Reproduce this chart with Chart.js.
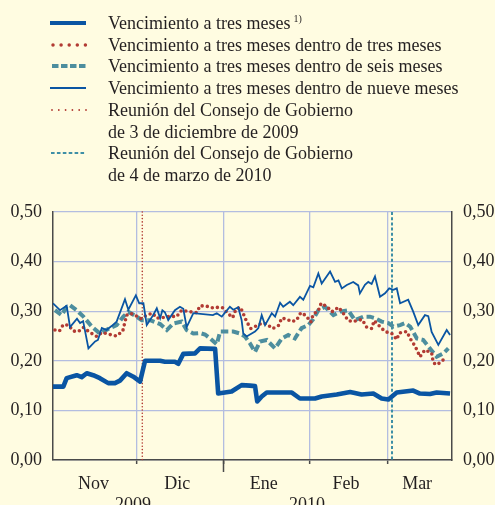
<!DOCTYPE html>
<html><head><meta charset="utf-8">
<script src="https://cdn.jsdelivr.net/npm/chart.js@4.4.1/dist/chart.umd.min.js"></script>
<style>
html,body{margin:0;padding:0;background:#FFFCE1;}
#wrap{position:relative;width:495px;height:505px;overflow:hidden;background:#FFFCE1;font-family:"Liberation Serif","Times New Roman",serif;color:#231F20;}
#c{position:absolute;left:0;top:0;}
.row{position:absolute;left:108px;font-size:18px;line-height:21.6px;white-space:nowrap;}
.row sup{font-size:10px;vertical-align:0;position:relative;top:-7px;margin-left:3px;}
#sw{position:absolute;left:0;top:0;}
</style></head>
<body>
<div id="wrap">
<canvas id="c" width="495" height="505"></canvas>
<svg id="sw" width="100" height="190">
  <line x1="50" x2="86" y1="23" y2="23" stroke="#0A55A3" stroke-width="4"/>
  <line x1="53" x2="87" y1="45" y2="45" stroke="#B23B33" stroke-width="3.5" stroke-linecap="round" stroke-dasharray="0 8.1"/>
  <line x1="52" x2="86" y1="66" y2="66" stroke="#4D8E9E" stroke-width="4" stroke-dasharray="6.5 2.5"/>
  <line x1="50" x2="86" y1="88" y2="88" stroke="#0A55A3" stroke-width="2"/>
  <line x1="52" x2="87" y1="110" y2="110" stroke="#B23B33" stroke-width="1.8" stroke-linecap="round" stroke-dasharray="0 6.8"/>
  <line x1="51" x2="86" y1="153" y2="153" stroke="#3E8FA6" stroke-width="2" stroke-dasharray="3.6 2.3"/>
</svg>
<div class="row" style="top:13px">Vencimiento a tres meses<sup>1)</sup></div>
<div class="row" style="top:35px">Vencimiento a tres meses dentro de tres meses</div>
<div class="row" style="top:56px">Vencimiento a tres meses dentro de seis meses</div>
<div class="row" style="top:78px">Vencimiento a tres meses dentro de nueve meses</div>
<div class="row" style="top:100px">Reunión del Consejo de Gobierno<br>de 3 de diciembre de 2009</div>
<div class="row" style="top:143px">Reunión del Consejo de Gobierno<br>de 4 de marzo de 2010</div>
</div>
<script>
// x values: days since 1 Nov 2009
const spotDays=[0,3.7,4.9,8.5,10.3,12.1,14.4,16.8,19.8,22.2,24,26.4,28.8,31.2,33,38.4,40.1,43.7,44.9,46.7,50.9,52.7,58.1,59.2,64,67.6,70.6,72.4,73.2,74.8,76.6,81.4,85.6,88.5,93.9,96.3,101.7,106.5,110.6,114.8,117.8,120.2,123.2,129.1,131.5,135.1,137.5,142.3];
const spotVals=[0.148,0.148,0.165,0.171,0.167,0.175,0.171,0.165,0.155,0.155,0.160,0.175,0.168,0.158,0.200,0.200,0.198,0.198,0.194,0.214,0.215,0.225,0.224,0.134,0.138,0.151,0.150,0.149,0.118,0.128,0.136,0.136,0.136,0.124,0.124,0.128,0.132,0.137,0.132,0.134,0.124,0.122,0.136,0.140,0.134,0.133,0.136,0.134];

const in3Days=[0.7,2.3,3.7,5.5,7.3,9.1,10.9,13.3,15.7,17.5,19.2,21,22.8,25,26.4,27.6,29.4,31.5,33.6,35.7,37.2,39.3,41.9,44.3,46.1,49.1,51.5,52.7,55.1,57.7,59.2,60.8,62.6,64.4,65.6,67.2,68.2,69.4,70.9,72.4,74.9,76.6,78.7,80.8,82,83.8,85.6,87.3,88.8,90.7,92.4,93.3,95.1,96.1,98,100,102.3,103.9,105.8,107.6,109.2,110.8,112.4,114.2,115.1,117,119,121.4,123.2,124.1,126.8,128,129.7,130.5,131.5,133.3,135.7,136.3,137.7,139.9];
const in3Vals=[0.262,0.260,0.273,0.272,0.260,0.259,0.267,0.257,0.249,0.257,0.255,0.252,0.250,0.260,0.292,0.296,0.292,0.285,0.292,0.296,0.286,0.287,0.290,0.289,0.302,0.299,0.297,0.311,0.310,0.306,0.308,0.307,0.296,0.287,0.304,0.308,0.295,0.279,0.265,0.269,0.276,0.274,0.265,0.271,0.286,0.284,0.279,0.282,0.297,0.291,0.278,0.294,0.301,0.316,0.310,0.299,0.308,0.297,0.281,0.279,0.282,0.283,0.268,0.265,0.281,0.270,0.259,0.255,0.243,0.256,0.259,0.245,0.230,0.221,0.208,0.222,0.216,0.196,0.192,0.202];

const in6Days=[0.7,3.1,4.9,6.1,8.5,10.9,13.9,16.8,20.4,22.8,25.2,27,30,31.8,34.8,38.4,40.8,43.1,46.1,47.9,50.3,52.7,54.5,56.3,58.7,59.9,64.6,67,68.8,70.6,72.4,74.2,76.6,79.6,82,84.3,86.7,89.1,91.5,93.3,95.1,97.5,100.5,102.9,105.8,108.2,111.2,113.6,115.4,117.8,120.2,122,124.4,126.2,128,130.4,132.7,135.1,137.5,139.9,141.7];
const in6Vals=[0.302,0.292,0.309,0.312,0.302,0.289,0.269,0.255,0.266,0.272,0.289,0.299,0.289,0.282,0.282,0.274,0.262,0.275,0.279,0.262,0.255,0.256,0.253,0.245,0.233,0.259,0.259,0.255,0.249,0.235,0.218,0.239,0.242,0.225,0.245,0.252,0.245,0.266,0.272,0.284,0.302,0.309,0.292,0.299,0.302,0.282,0.289,0.289,0.286,0.279,0.276,0.269,0.272,0.276,0.269,0.245,0.242,0.225,0.208,0.215,0.225];

const in9Days=[0,2.5,4.9,6.1,8.6,9.7,10.8,12.7,15.1,16.1,17.5,19.2,21,22.8,25.8,27,29.7,30.9,32.4,33.6,35.9,37.2,38.4,39.2,40.1,41.3,43.7,45.5,46.7,47.9,50.3,57.3,58.7,60.5,63.4,64.6,66.4,67.6,68.2,69.4,72.4,73.6,74.8,76,78.4,79.6,81.4,82.5,84.9,86.1,88.5,89.7,92.1,93.3,95.1,96.3,99.3,101.1,102.3,103.5,105.3,107.6,109.4,110,111.8,113,114.2,115.4,117.2,119,120.5,122,123.2,124.4,127.3,129.1,130.9,133.3,134.5,135.7,138.1,141.1,142.3];
const in9Vals=[0.316,0.302,0.311,0.268,0.285,0.276,0.280,0.225,0.239,0.242,0.266,0.262,0.270,0.279,0.324,0.303,0.332,0.316,0.316,0.272,0.292,0.306,0.286,0.302,0.298,0.282,0.302,0.309,0.305,0.268,0.296,0.292,0.296,0.289,0.309,0.303,0.308,0.282,0.255,0.249,0.259,0.266,0.292,0.272,0.296,0.289,0.317,0.309,0.319,0.312,0.329,0.323,0.351,0.348,0.376,0.356,0.380,0.359,0.362,0.346,0.353,0.359,0.352,0.336,0.353,0.359,0.355,0.370,0.329,0.336,0.346,0.343,0.346,0.316,0.323,0.299,0.272,0.292,0.290,0.258,0.232,0.262,0.252];

const monthBoundaries=[30,61,92,120];
const yearBoundary=61;
const monthMids=[14.5,44.5,75.5,105,130.5];
const monthLabels=['Nov','Dic','Ene','Feb','Mar'];
const yearPos=[28.7,91];
const yearLabels=['2009','2010'];
const eventDays=[32,121.5];
const yTicks=[0,0.1,0.2,0.3,0.4,0.5];

const BLUE='#0A55A3', RED='#B23B33', TEAL='#4D8E9E', TEAL2='#3E8FA6', GRID='#B3BDE0', AXIS='#4A4A4A', TXT='#231F20';
const FONT={family:'"Liberation Serif","Times New Roman",serif',size:18};

const zip=(d,v)=>d.map((x,i)=>({x,y:v[i]}));

const tickList=[];
monthBoundaries.forEach(v=>tickList.push({value:v,kind:'b'}));
monthMids.forEach((v,i)=>tickList.push({value:v,kind:'m',text:monthLabels[i]}));
yearPos.forEach((v,i)=>tickList.push({value:v,kind:'y',text:['',yearLabels[i]]}));
tickList.sort((a,b)=>a.value-b.value);

const extras={
  id:'extras',
  beforeDatasetsDraw(chart){
    const {ctx,chartArea:a,scales:{x}}=chart;
    ctx.save();
    let px=x.getPixelForValue(eventDays[0]);
    ctx.strokeStyle=RED;ctx.lineWidth=1.6;ctx.lineCap='round';ctx.setLineDash([0,3.3]);
    ctx.beginPath();ctx.moveTo(px,a.top);ctx.lineTo(px,a.bottom);ctx.stroke();
    px=x.getPixelForValue(eventDays[1]);
    ctx.strokeStyle=TEAL2;ctx.lineWidth=2;ctx.lineCap='butt';ctx.setLineDash([3,2.2]);
    ctx.beginPath();ctx.moveTo(px,a.top);ctx.lineTo(px,a.bottom);ctx.stroke();
    ctx.restore();
  },
  afterDraw(chart){
    const {ctx,chartArea:a,scales:{x}}=chart;
    const px=Math.round(x.getPixelForValue(yearBoundary))+0.5;
    ctx.save();ctx.strokeStyle=AXIS;ctx.lineWidth=1.5;
    ctx.beginPath();ctx.moveTo(px,a.bottom);ctx.lineTo(px,a.bottom+12);ctx.stroke();
    ctx.restore();
  }
};

new Chart(document.getElementById('c'),{
  type:'line',
  data:{datasets:[
    {label:'Vencimiento a tres meses',data:zip(spotDays,spotVals),borderColor:BLUE,borderWidth:4.6,pointRadius:0,order:0,borderJoinStyle:'round'},
    {label:'Vencimiento a tres meses dentro de nueve meses',data:zip(in9Days,in9Vals),borderColor:BLUE,borderWidth:1.8,pointRadius:0,order:1},
    {label:'Vencimiento a tres meses dentro de tres meses',data:zip(in3Days,in3Vals),borderColor:RED,borderWidth:3.6,borderDash:[0,5.2],borderCapStyle:'round',pointRadius:0,order:2},
    {label:'Vencimiento a tres meses dentro de seis meses',data:zip(in6Days,in6Vals),borderColor:TEAL,borderWidth:4,borderDash:[7.5,3.5],pointRadius:0,order:3}
  ]},
  options:{
    responsive:false,animation:false,devicePixelRatio:1,
    layout:{padding:{top:212,left:0,right:0,bottom:0}},
    plugins:{legend:{display:false},tooltip:{enabled:false}},
    scales:{
      x:{type:'linear',min:0,max:143,
        afterFit(s){s.height=45;},
        afterBuildTicks(s){s.ticks=tickList.map(t=>({value:t.value}));},
        grid:{
          color:c=>(c.tick&&monthBoundaries.includes(c.tick.value))?GRID:'rgba(0,0,0,0)',
          tickColor:c=>(c.tick&&monthBoundaries.includes(c.tick.value))?AXIS:'rgba(0,0,0,0)',
          tickLength:4,lineWidth:1.3,tickWidth:1.5
        },
        border:{color:AXIS,width:1.5},
        ticks:{autoSkip:false,maxRotation:0,padding:9,color:TXT,font:FONT,
          callback:(v,i)=>{const t=tickList[i];return t&&t.text?t.text:'';}}
      },
      y:{position:'left',min:0,max:0.5,
        afterFit(s){s.width=53;},
        afterBuildTicks(s){s.ticks=yTicks.map(v=>({value:v}));},
        grid:{color:GRID,lineWidth:1.3,drawTicks:false},
        border:{color:AXIS,width:1.5},
        ticks:{padding:11,color:TXT,font:FONT,callback:v=>v.toFixed(2).replace('.',',')}
      },
      y2:{position:'right',min:0,max:0.5,
        afterFit(s){s.width=43;},
        afterBuildTicks(s){s.ticks=yTicks.map(v=>({value:v}));},
        grid:{drawOnChartArea:false,drawTicks:false},
        border:{color:AXIS,width:1.5},
        ticks:{padding:11,color:TXT,font:FONT,callback:v=>v.toFixed(2).replace('.',',')}
      }
    }
  },
  plugins:[extras]
});
</script>
</body></html>
